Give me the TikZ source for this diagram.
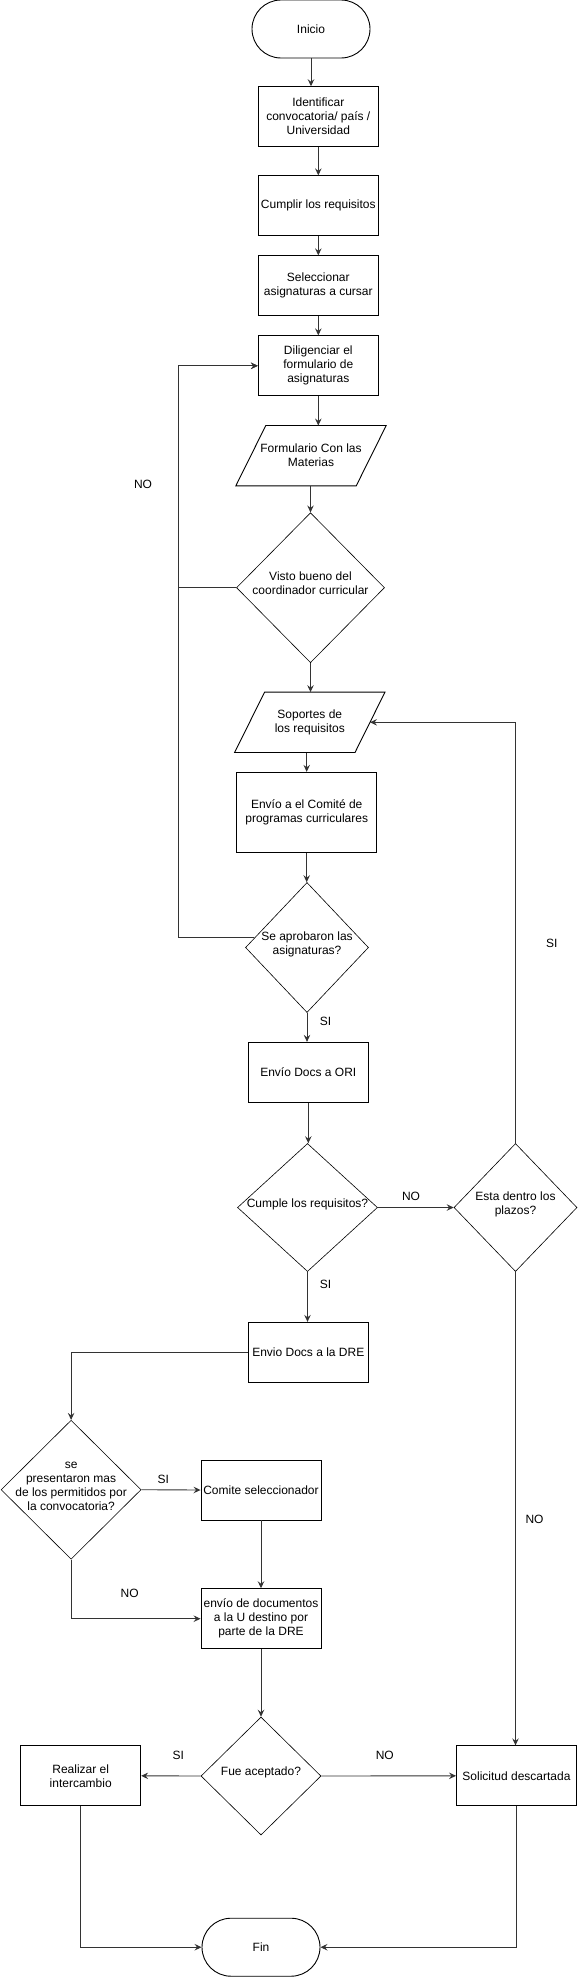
\documentclass[tikz,border=0pt]{standalone}
\usepackage{fontspec}
\setmainfont{Liberation Sans}
\usetikzlibrary{shapes.geometric,shapes.misc,arrows.meta,calc}
\newcommand{\dtext}[1]{\smash{\makebox[0pt]{\begin{tabular}{@{}c@{}}#1\end{tabular}}}}
\begin{document}
\begin{tikzpicture}[x=1pt,y=-1pt,
  font=\fontsize{12}{14}\selectfont,
  box/.style={draw=black, line width=0.9pt, rectangle, minimum width=120pt, minimum height=60pt, inner sep=1pt, align=center},
  term/.style={draw=black, line width=0.9pt, rounded rectangle, minimum width=120pt, minimum height=58pt, inner sep=1pt},
  dia/.style={draw=black, line width=0.6pt, diamond, inner sep=0pt},
  iohelp/.style={minimum width=150pt, minimum height=60pt, inner sep=0pt, align=center},
  shapeline/.style={draw=black, line width=0.9pt, line join=miter},
  conn/.style={draw=black!80, line width=0.9pt, -{Stealth[length=7pt,width=6.5pt,inset=2.5pt]}},
  lbl/.style={inner sep=0pt}
]
\useasboundingbox (0,0) rectangle (578,1978);

% nodes
\node[term] (ini) at (311,29) {Inicio};
\node[box] (iden) at (318.3,116.7) {Identificar\\convocatoria/ país /\\Universidad};
\node[box] (cump) at (318.3,205.8) {Cumplir los requisitos};
\node[box] (sel) at (318.3,285.8) {Seleccionar\\asignaturas a cursar};
\node[box] (dil) at (318.3,365.8) {Diligenciar el\\formulario de\\asignaturas};
\node[iohelp] (form) at (311,455.7) {Formulario Con las\\Materias};
\draw[shapeline] (form.south west) -- ([xshift=30pt]form.north west) -- (form.north east) -- ([xshift=-30pt]form.south east) -- cycle;
\node[dia, minimum width=148pt, minimum height=150pt] (vb) at (310.5,587.7) {\dtext{Visto bueno del\\coordinador curricular}};
\node[iohelp] (sop) at (309.8,722.3) {Soportes de\\los requisitos};
\draw[shapeline] (sop.south west) -- ([xshift=30pt]sop.north west) -- (sop.north east) -- ([xshift=-30pt]sop.south east) -- cycle;
\coordinate (sopR) at ($(sop.east)+(-15,0)$);
\node[box, minimum width=140pt, minimum height=80pt] (com) at (306.7,812.3) {Envío a el Comité de\\programas curriculares};
\node[dia, minimum width=123pt, minimum height=130pt] (sa) at (307,947.5) {\dtext{Se aprobaron las\\asignaturas?}};
\coordinate (saNO) at ($(sa.west)!0.15!(sa.north)$);
\node[box] (ori) at (308.3,1072.3) {Envío Docs a ORI};
\node[dia, minimum width=140pt, minimum height=128pt] (cum) at (307.5,1207.5) {\dtext{Cumple los requisitos?}};
\node[dia, minimum width=123pt, minimum height=128pt] (esta) at (515.5,1207.5) {\dtext{Esta dentro los\\plazos?}};
\node[box] (dre) at (308.3,1352.3) {Envio Docs a la DRE};
\node[dia, minimum width=140pt, minimum height=139pt] (sp) at (71.1,1489.7) {\dtext{se\\presentaron mas\\de los permitidos por\\la convocatoria?}};
\node[box] (comsel) at (261,1490) {Comite seleccionador};
\node[box] (envdoc) at (261,1618.7) {envío de documentos\\a la U destino por\\parte de la DRE};
\node[dia, minimum width=120pt, minimum height=118pt] (fue) at (261,1776) {\dtext{Fue aceptado?}};
\node[box] (real) at (80.7,1775.8) {Realizar el\\intercambio};
\node[box] (sol) at (516.5,1775.8) {Solicitud descartada};
\node[term] (fin) at (261,1947.2) {Fin};
\coordinate (loopx) at (178.4,0);

% connectors
\draw[conn] (ini.south) -- (ini.south |- iden.north);
\draw[conn] (iden) -- (cump);
\draw[conn] (cump) -- (sel);
\draw[conn] (sel) -- (dil);
\draw[conn] (dil.south) -- (dil.south |- form.north);
\draw[conn] (form.south -| vb.north) -- (vb.north);
\draw[conn] (vb.west) -- (vb.west -| loopx) |- (dil.west);
\draw[conn] (vb.south) -- (vb.south |- sop.north);
\draw[conn] (com.north |- sop.south) -- (com.north);
\draw[conn] (com.south) -- (com.south |- sa.north);
\draw[conn] (saNO) -- (saNO -| loopx) |- (dil.west);
\draw[conn] (sa.south) -- (sa.south |- ori.north);
\draw[conn] (ori.south) -- (ori.south |- cum.north);
\draw[conn] (cum.east) -- (esta.west);
\draw[conn] (esta.north) |- (sopR);
\draw[conn] (cum.south) -- (cum.south |- dre.north);
\draw[conn] (dre.west) -| (sp.north);
\draw[conn] (sp.east) -- (comsel.west);
\draw[conn] (sp.south) |- (envdoc.west);
\draw[conn] (comsel) -- (envdoc);
\draw[conn] (envdoc) -- (fue);
\draw[conn] (fue.west) -- (real.east);
\draw[conn] (fue.east) -- (sol.west);
\draw[conn] (esta.south) -- (esta.south |- sol.north);
\draw[conn] (real.south) |- (fin.west);
\draw[conn] (sol.south) |- (fin.east);

% labels
\node[lbl] (l1) at (143,484) {NO};
\node[lbl] (l2) at (551.8,943.7) {SI};
\node[lbl] (l3) at (325.5,1021.7) {SI};
\node[lbl] (l4) at (411,1196.7) {NO};
\node[lbl] (l5) at (325.5,1284.7) {SI};
\node[lbl] (l6) at (163.3,1479) {SI};
\node[lbl] (l7) at (129.7,1593.7) {NO};
\node[lbl] (l8) at (534.5,1519) {NO};
\node[lbl] (l9) at (178.4,1755.7) {SI};
\node[lbl] (l10) at (384.8,1755.7) {NO};
\end{tikzpicture}
\end{document}
